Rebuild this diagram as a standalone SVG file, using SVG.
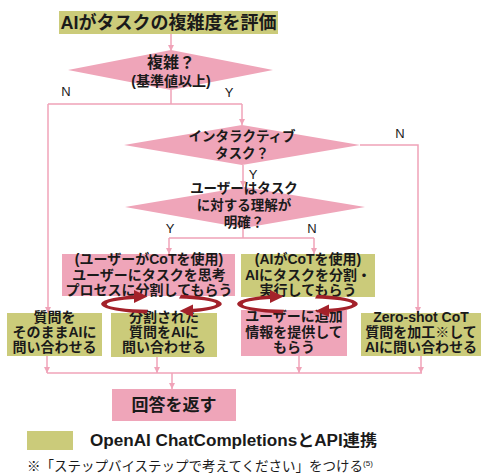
<svg xmlns="http://www.w3.org/2000/svg" width="482" height="473" viewBox="0 0 482 473">
<defs>
<style>
.t{font-family:"Liberation Sans","Noto Sans CJK JP",sans-serif;font-weight:bold;fill:#1a1a1a;text-anchor:middle}
.lbl{font-family:"Liberation Sans","Noto Sans CJK JP",sans-serif;font-size:13px;fill:#1a1a1a;text-anchor:middle}
.pink{fill:#efa5b9}
.olive{fill:#cbcb7a}
.ln{fill:none;stroke:#f0a3b8;stroke-width:1.5}
.circ{fill:#a3212a;stroke:none}
</style>
<marker id="ah" viewBox="0 0 6 6" refX="6" refY="3" markerWidth="6" markerHeight="6" markerUnits="userSpaceOnUse" orient="auto">
<path d="M0,0 L6,3 L0,6 z" fill="#f0a3b8"/>
</marker>
</defs>
<rect width="482" height="473" fill="#ffffff"/>

<g id="connectors">
<path class="ln" d="M171,34 V51" marker-end="url(#ah)"/>
<path class="ln" d="M171,90 V104 M48,104 H242"/>
<path class="ln" d="M48,104 V313" marker-end="url(#ah)"/>
<path class="ln" d="M242,104 V125" marker-end="url(#ah)"/>
<path class="ln" d="M360,145 H418 V313" marker-end="url(#ah)"/>
<path class="ln" d="M243,165 V187" marker-end="url(#ah)"/>
<path class="ln" d="M243,225 V238 M169,238 H314"/>
<path class="ln" d="M169,238 V254" marker-end="url(#ah)"/>
<path class="ln" d="M314,238 V254" marker-end="url(#ah)"/>
<path class="ln" d="M47,356 V373" marker-end="url(#ah)"/>
<path class="ln" d="M157,357 V373" marker-end="url(#ah)"/>
<path class="ln" d="M299,356 V373" marker-end="url(#ah)"/>
<path class="ln" d="M421,356 V373" marker-end="url(#ah)"/>
<path class="ln" d="M47,373 H422"/>
<path class="ln" d="M172,373 V389" marker-end="url(#ah)"/>
</g>

<g id="title">
<rect class="olive" x="59" y="11" width="219" height="23"/>
<text class="t" x="168.5" y="29" font-size="18">AIがタスクの複雑度を評価</text>
</g>

<g id="d1">
<polygon class="pink" points="171,50 273,70 171,90 68,70"/>
<text class="t" x="171" y="68" font-size="16">複雑？</text>
<text class="t" x="171" y="86" font-size="14">(基準値以上)</text>
</g>
<text class="lbl" x="66" y="96">N</text>
<text class="lbl" x="229" y="97">Y</text>

<g id="d2">
<polygon class="pink" points="242,125 360,145 242,165 124,145"/>
<text class="t" x="242" y="141" font-size="13.5">インタラクティブ</text>
<text class="t" x="242" y="158" font-size="13.5">タスク？</text>
</g>
<text class="lbl" x="400" y="138">N</text>
<text class="lbl" x="253" y="179">Y</text>

<g id="d3">
<polygon class="pink" points="244,187 365,207 244,228 125,207"/>
<text class="t" x="244" y="193" font-size="13.5">ユーザーはタスク</text>
<text class="t" x="244" y="210" font-size="13.5">に対する理解が</text>
<text class="t" x="244" y="227" font-size="13.5">明確？</text>
</g>
<text class="lbl" x="170" y="233">Y</text>
<text class="lbl" x="312" y="233">N</text>

<g id="userCoT">
<rect class="pink" x="62" y="254" width="173" height="42"/>
<text class="t" x="149" y="264" font-size="14">(ユーザーがCoTを使用)</text>
<text class="t" x="149" y="280" font-size="14">ユーザーにタスクを思考</text>
<text class="t" x="149" y="295" font-size="14">プロセスに分割してもらう</text>
</g>

<g id="aiCoT">
<rect class="olive" x="241" y="254" width="134" height="43"/>
<text class="t" x="308" y="264" font-size="14">(AIがCoTを使用)</text>
<text class="t" x="308" y="280" font-size="14">AIにタスクを分割・</text>
<text class="t" x="308" y="295" font-size="14">実行してもらう</text>
</g>

<g id="direct">
<rect class="olive" x="7" y="313" width="95" height="43"/>
<text class="t" x="54.5" y="322" font-size="14">質問を</text>
<text class="t" x="54.5" y="337" font-size="14">そのままAIに</text>
<text class="t" x="54.5" y="352" font-size="14">問い合わせる</text>
</g>

<g id="split">
<rect class="olive" x="111" y="313" width="106" height="44"/>
<text class="t" x="164" y="322" font-size="14">分割された</text>
<text class="t" x="164" y="337" font-size="14">質問をAIに</text>
<text class="t" x="164" y="352" font-size="14">問い合わせる</text>
</g>

<g id="addinfo">
<rect class="pink" x="241" y="310" width="106" height="46"/>
<text class="t" x="294" y="321" font-size="14">ユーザーに追加</text>
<text class="t" x="294" y="337" font-size="14">情報を提供して</text>
<text class="t" x="294" y="352" font-size="14">もらう</text>
</g>

<g id="zeroshot">
<rect class="olive" x="361" y="313" width="120" height="43"/>
<text class="t" x="421" y="322" font-size="14">Zero-shot CoT</text>
<text class="t" x="421" y="337" font-size="14">質問を加工※して</text>
<text class="t" x="421" y="352" font-size="14">AIに問い合わせる</text>
</g>

<g id="cycle1">
<path class="circ" d="M146.5,313.5 A60,9.8 0 0 1 134.6,295.2 L138,298.8 A52,5.8 0 0 0 148,309.8 Z"/>
<polygon class="circ" points="134,290 147.5,296.6 134,303"/>
<path class="circ" d="M181,294.7 A60,9.8 0 0 1 193.5,312.3 L190,309 A52,5.8 0 0 0 179,298.4 Z"/>
<polygon class="circ" points="193,304.5 179.5,310.9 193,317"/>
</g>
<g id="cycle2">
<path class="circ" d="M282.5,313.5 A60,9.8 0 0 1 270.6,295.2 L274,298.8 A52,5.8 0 0 0 284,309.8 Z"/>
<polygon class="circ" points="270,290 283.5,296.6 270,303"/>
<path class="circ" d="M317,294.7 A60,9.8 0 0 1 329.5,312.3 L326,309 A52,5.8 0 0 0 315,298.4 Z"/>
<polygon class="circ" points="329,304.5 315.5,310.9 329,317"/>
</g>

<g id="answer">
<rect class="pink" x="112" y="389" width="124" height="32"/>
<text class="t" x="174" y="411" font-size="17">回答を返す</text>
</g>

<g id="legend">
<rect class="olive" x="27" y="431" width="46" height="19"/>
<text class="t" x="90" y="446" font-size="16" textLength="287" lengthAdjust="spacingAndGlyphs" style="text-anchor:start">OpenAI ChatCompletionsとAPI連携</text>
<text x="27" y="471" font-size="13.5" font-family="Liberation Sans, Noto Sans CJK JP, sans-serif" fill="#1a1a1a">※「ステップバイステップで考えてください」をつける<tspan font-size="8" dy="-5">(5)</tspan></text>
</g>
</svg>
